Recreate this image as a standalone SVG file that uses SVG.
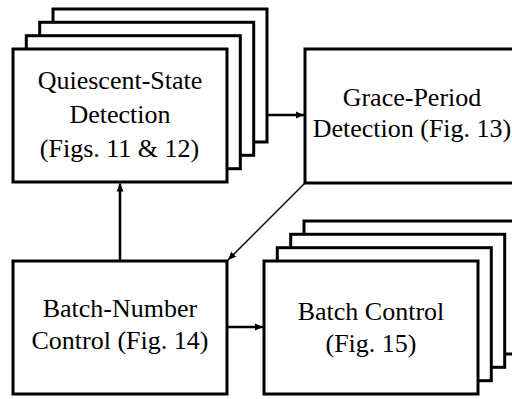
<svg xmlns="http://www.w3.org/2000/svg" width="512" height="399" viewBox="0 0 512 399">
<style>
.box{fill:#fff;stroke:#000;stroke-width:3}
.conn{stroke:#000;fill:none}
</style>
<defs>
<marker id="ah" markerUnits="userSpaceOnUse" markerWidth="10" markerHeight="10" refX="8" refY="5" orient="auto">
<path d="M0,1.5 L8,5 L0,8.5 Z" fill="#000"/>
</marker>
</defs>
<rect width="512" height="399" fill="#fff"/>
<g id="qs">
<rect class="box" x="53" y="9" width="214" height="133"/>
<rect class="box" x="39.7" y="22.3" width="214" height="133"/>
<rect class="box" x="26.3" y="35.7" width="214" height="133"/>
<rect class="box" x="13" y="49" width="214" height="133"/>
<text x="37.7" y="89" font-size="26" font-family="Times New Roman">Quiescent-State</text>
<text x="69.4" y="123" font-size="26" font-family="Times New Roman">Detection</text>
<text x="39.8" y="157" font-size="26" font-family="Times New Roman">(Figs. 11 &amp; 12)</text>
</g>
<g id="gp">
<rect class="box" x="305" y="49" width="214" height="134"/>
<text x="342.7" y="106" font-size="26" font-family="Times New Roman">Grace-Period</text>
<text x="312.7" y="137" font-size="26" font-family="Times New Roman">Detection (Fig. 13)</text>
</g>
<g id="bn">
<rect class="box" x="13" y="261" width="214" height="133"/>
<text x="42.7" y="317" font-size="26" font-family="Times New Roman">Batch-Number</text>
<text x="31.5" y="349" font-size="26" font-family="Times New Roman">Control (Fig. 14)</text>
</g>
<g id="bc">
<rect class="box" x="304" y="221" width="214" height="133"/>
<rect class="box" x="290.7" y="234.3" width="214" height="133"/>
<rect class="box" x="277.3" y="247.7" width="214" height="133"/>
<rect class="box" x="264" y="261" width="214" height="133"/>
<text x="297.7" y="320" font-size="26" font-family="Times New Roman">Batch Control</text>
<text x="325.5" y="352" font-size="26" font-family="Times New Roman">(Fig. 15)</text>
</g>
<g id="connectors">
<line class="conn" stroke-width="2.5" x1="267" y1="115" x2="304" y2="115" marker-end="url(#ah)"/>
<line class="conn" stroke-width="1.5" x1="305" y1="183" x2="228" y2="260" marker-end="url(#ah)"/>
<line class="conn" stroke-width="2.5" x1="120" y1="261" x2="120" y2="183.5" marker-end="url(#ah)"/>
<line class="conn" stroke-width="2.5" x1="227" y1="327" x2="263" y2="327" marker-end="url(#ah)"/>
</g>
</svg>
